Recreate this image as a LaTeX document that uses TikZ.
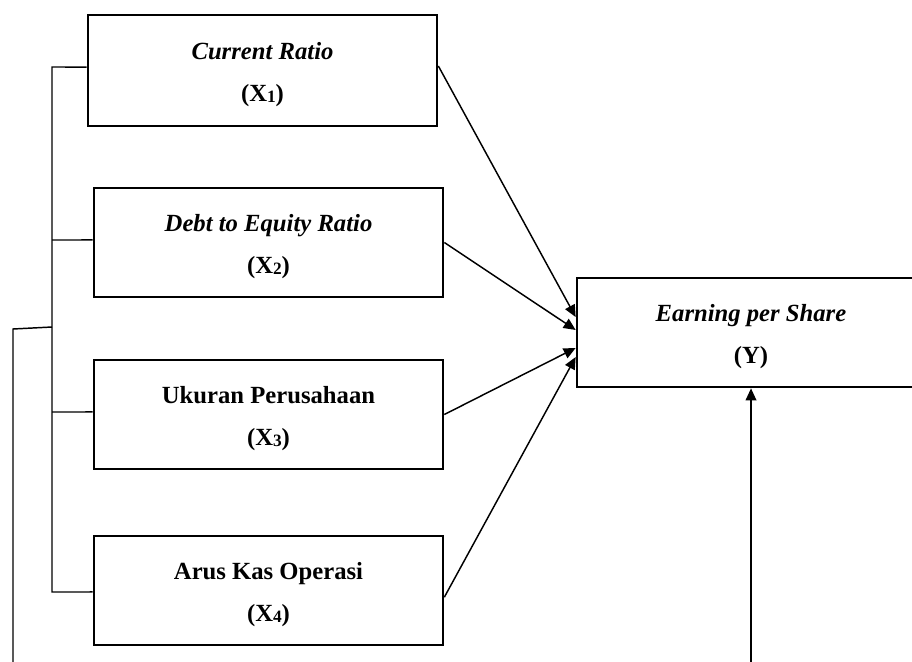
\documentclass[tikz,border=0pt]{standalone}
\usepackage{fontspec}
\setmainfont{Liberation Serif}
\usetikzlibrary{arrows.meta}
\newcommand{\subdig}[1]{\raisebox{-1pt}{\fontsize{13}{13}\selectfont #1}}
\newcommand{\topstrut}{\rule{0pt}{19pt}}
\tikzset{
  varbox/.style={draw, line width=2pt, minimum width=349*0.75pt, minimum height=109*0.75pt,
    align=center, inner sep=0pt, font=\fontsize{18.5}{31.5}\selectfont\bfseries},
  conn/.style={line width=1.1pt},
  arr/.style={conn, -{Triangle[length=9pt,width=8pt]}}
}
\begin{document}
\begin{tikzpicture}[x=0.75pt,y=-0.75pt]
\useasboundingbox (0,0) rectangle (912,661);
\clip (0,0) rectangle (912,661);
\node[varbox, minimum height=111*0.75pt] (b1) at (262.5,70.5) {\topstrut\textit{Current Ratio}\\(X\subdig{1})};
\node[varbox] (b2) at (268.5,242.5) {\topstrut\textit{Debt to Equity Ratio}\\(X\subdig{2})};
\node[varbox] (b3) at (268.5,414.5) {\topstrut Ukuran Perusahaan\\(X\subdig{3})};
\node[varbox] (b4) at (268.5,590.5) {\topstrut Arus Kas Operasi\\(X\subdig{4})};
\node[varbox, minimum width=348*0.75pt] (y) at (751,332.5) {\topstrut\textit{Earning per Share}\\(Y)};
% arrows to Y
\draw[arr] ([yshift=3.4pt]b1.east) -- ([yshift=11.6pt]y.west);
\draw[arr] (b2.east) -- ([yshift=1.9pt]y.west);
\draw[arr] (b3.east) -- ([yshift=-11.6pt]y.west);
\draw[arr] ([yshift=-5pt]b4.east) -- ([yshift=-18.4pt]y.west);
% bracket
\coordinate (j1) at (52,67);
\coordinate (j2) at (52,240);
\coordinate (j3) at (52,412);
\coordinate (j4) at (52,592);
\coordinate (j5) at (52,327);
\coordinate (lc) at (13,329);
\coordinate (lend) at (13,680);
\draw[conn] ([yshift=2.6pt]b1.west) -- (j1) -- (j4) -- ([yshift=-1.1pt]b4.west);
\draw[conn] ([yshift=1.9pt]b2.west) -- (j2);
\draw[conn] ([yshift=1.9pt]b3.west) -- (j3);
\draw[conn] (j5) -- (lc) -- (lend);
% bottom arrow
\coordinate (ybot) at (751,680);
\draw[arr] (ybot) -- (y.south);
\end{tikzpicture}
\end{document}
